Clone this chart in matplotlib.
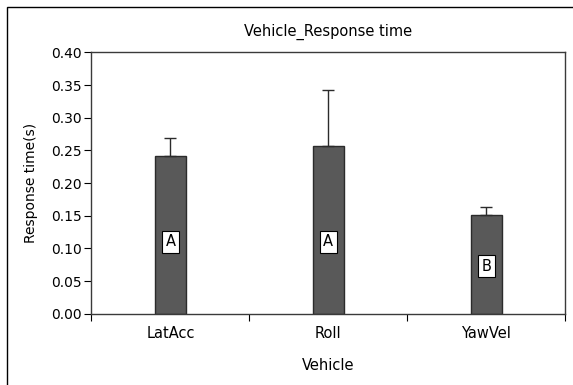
import matplotlib.pyplot as plt
from matplotlib.patches import Rectangle

plt.rcParams['font.family'] = ['DejaVu Sans']

categories = ['LatAcc', 'Roll', 'YawVel']
response_time = [0.242, 0.256, 0.151]
upper_err = [0.027, 0.087, 0.012]
groups = ['A', 'A', 'B']
group_y = [0.110, 0.110, 0.073]

fig = plt.figure(figsize=(5.73, 3.85), dpi=100)
# outer chart frame (right/bottom edges cut off as in the original)
fig.patches.append(Rectangle((7 / 573, -0.1), 1.2, 1 - 7 / 385 + 0.1,
                             transform=fig.transFigure, fill=False,
                             edgecolor='black', linewidth=1.0))

ax = fig.add_axes([0.1595, 0.185, 0.8272, 0.679])

x = [i + 0.5 for i in range(len(categories))]
ax.bar(x, response_time, width=0.195, color='#595959', edgecolor='#2b2b2b',
       linewidth=1.0, zorder=2)
ax.errorbar(x, response_time, yerr=[[0] * len(upper_err), upper_err],
            fmt='none', ecolor='#2b2b2b', elinewidth=1.0, capsize=4,
            capthick=1.0, zorder=3)

for xi, g, gy in zip(x, groups, group_y):
    ax.text(xi, gy, g, ha='center', va='center', fontsize=10.5,
            bbox=dict(boxstyle='square,pad=0.25', facecolor='white',
                      edgecolor='black', linewidth=0.8), zorder=4)

ax.set_xlim(0, 3)
ax.set_ylim(0, 0.40)
ax.set_yticks([i * 0.05 for i in range(9)])
ax.set_yticklabels([f'{i * 0.05:.2f}' for i in range(9)])
ax.set_xticks([0, 1, 2, 3])
ax.set_xticklabels([])
ax.set_xticks(x, minor=True)
ax.set_xticklabels(categories, minor=True)
ax.tick_params(axis='x', which='minor', length=0, pad=9, labelsize=10.5)
ax.tick_params(axis='x', which='major', length=5, width=0.8, direction='out')
ax.tick_params(axis='y', length=5, width=0.8, direction='out', labelsize=10, pad=2)

for s in ax.spines.values():
    s.set_color('#3a3a3a')
    s.set_linewidth(1.0)

ax.set_title('Vehicle_Response time', fontsize=10.5, pad=12)
ax.set_xlabel('Vehicle', fontsize=10.5, labelpad=12)
ax.set_ylabel('Response time(s)', fontsize=10, labelpad=9)

fig.savefig('out.png', dpi=100)
